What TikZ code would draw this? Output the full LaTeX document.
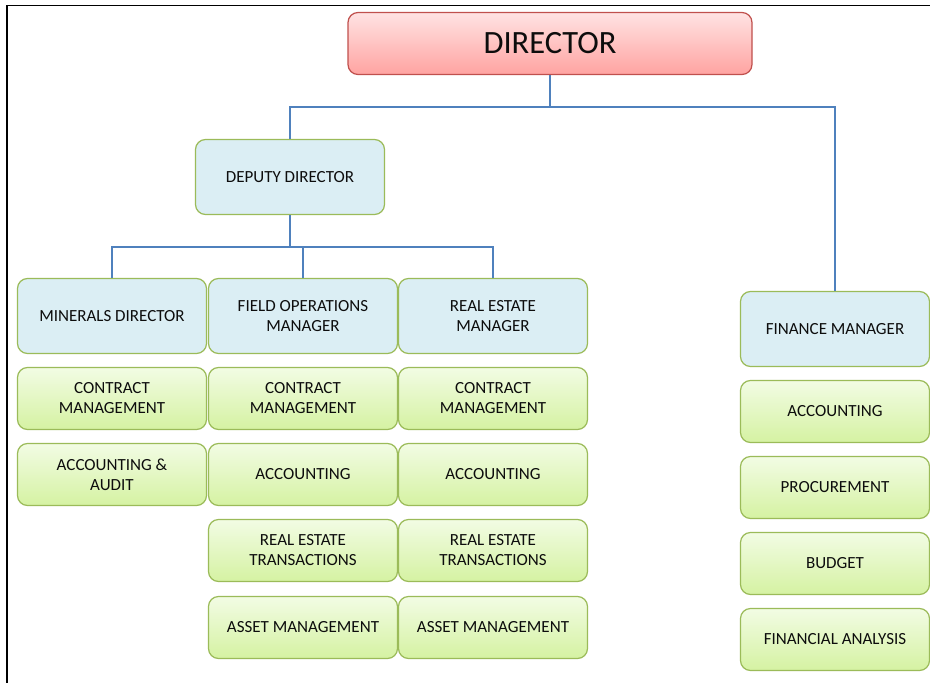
\documentclass[tikz,border=0pt]{standalone}
\usepackage{fontspec}
\setmainfont{Carlito}
\definecolor{boxgreen}{HTML}{9BBB59}
\definecolor{mgrblue}{HTML}{DBEEF4}
\definecolor{linkblue}{HTML}{4F81BD}
\definecolor{unittop}{HTML}{F2FCE4}
\definecolor{unitbot}{HTML}{D5F2A2}
\definecolor{dirtop}{HTML}{FFE3E3}
\definecolor{dirbot}{HTML}{FFA3A1}
\definecolor{dirborder}{HTML}{C0504D}
\definecolor{txt}{HTML}{0D0D0D}
\begin{document}
\begin{tikzpicture}[x=1pt,y=-1pt,
  basebox/.style={rounded corners=10pt, line width=1.2pt, align=center, inner sep=0pt,
    text=txt, font=\fontsize{17}{20}\selectfont},
  mgrbox/.style={basebox, draw=boxgreen, fill=mgrblue, minimum width=189pt, minimum height=75pt},
  unitbox/.style={basebox, draw=boxgreen, top color=unittop, bottom color=unitbot, minimum width=189pt, minimum height=62pt},
  dirbox/.style={basebox, draw=dirborder, top color=dirtop, bottom color=dirbot, minimum width=404pt, minimum height=62pt,
    font=\fontsize{32.5}{36}\selectfont},
  link/.style={draw=linkblue, line width=1.6pt}]
\useasboundingbox (0,0) rectangle (930,683);
% frame
\coordinate (fa) at (930,5.5);
\coordinate (fb) at (7,5.5);
\coordinate (fc) at (7,683);
\draw[line width=1.5pt, black] (fa) -- (fb) -- (fc);
% director
\node[dirbox] (dir) at (550,43.5) {DIRECTOR};
% deputy
\node[mgrbox] (dep) at (290,177) {DEPUTY DIRECTOR};
% managers
\node[mgrbox] (min) at (112,316) {MINERALS DIRECTOR};
\node[mgrbox] (fld) at (303,316) {FIELD OPERATIONS\\MANAGER};
\node[mgrbox] (res) at (493,316) {REAL ESTATE\\MANAGER};
\node[mgrbox] (fin) at (835,329) {FINANCE MANAGER};
% minerals units
\node[unitbox] (m1) at (112,398.5) {CONTRACT\\MANAGEMENT};
\node[unitbox] (m2) at (112,474.5) {ACCOUNTING \&\\AUDIT};
% field ops units
\node[unitbox] (f1) at (303,398.5) {CONTRACT\\MANAGEMENT};
\node[unitbox] (f2) at (303,474.5) {ACCOUNTING};
\node[unitbox] (f3) at (303,550.5) {REAL ESTATE\\TRANSACTIONS};
\node[unitbox] (f4) at (303,627.5) {ASSET MANAGEMENT};
% real estate units
\node[unitbox] (r1) at (493,398.5) {CONTRACT\\MANAGEMENT};
\node[unitbox] (r2) at (493,474.5) {ACCOUNTING};
\node[unitbox] (r3) at (493,550.5) {REAL ESTATE\\TRANSACTIONS};
\node[unitbox] (r4) at (493,627.5) {ASSET MANAGEMENT};
% finance units
\node[unitbox] (n1) at (835,411.5) {ACCOUNTING};
\node[unitbox] (n2) at (835,487.5) {PROCUREMENT};
\node[unitbox] (n3) at (835,563.5) {BUDGET};
\node[unitbox] (n4) at (835,639.5) {FINANCIAL ANALYSIS};
% connectors
\path[link] (dir.south) -- ++(0,32) -| (dep.north);
\path[link] (dir.south) -- ++(0,32) -| (fin.north);
\path[link] (dep.south) -- ++(0,32) -| (min.north);
\path[link] (dep.south) -- ++(0,32) -| (fld.north);
\path[link] (dep.south) -- ++(0,32) -| (res.north);
\end{tikzpicture}
\end{document}
